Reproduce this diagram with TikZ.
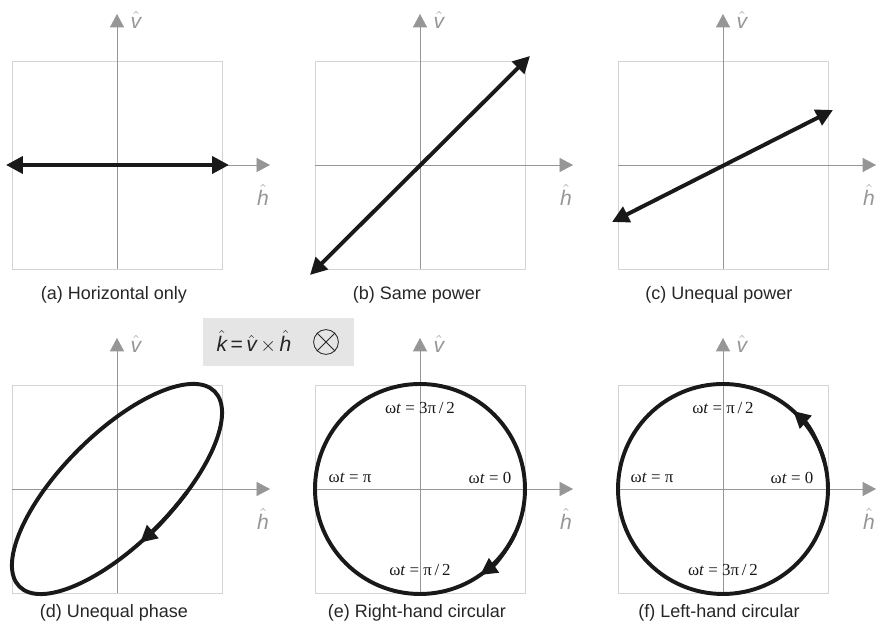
\documentclass[tikz,border=0pt]{standalone}
\usepackage{fontspec}
\setmainfont{Liberation Sans}
\newfontfamily\lblfont{Liberation Serif}
\usetikzlibrary{positioning,arrows.meta}
\definecolor{axisgray}{RGB}{150,150,150}
\definecolor{framegray}{RGB}{212,212,212}
\definecolor{boxgray}{RGB}{229,229,229}
\newcommand{\hatit}[1]{$\hat{\mbox{\itshape #1}}$}

\begin{document}
\begin{tikzpicture}[x=0.025cm, y=0.025cm,
  >={Triangle[length=12pt, width=12pt]},
  panelframe/.style={draw=framegray, line width=0.6pt},
  axisline/.style={draw=axisgray, line width=0.5pt, -{Triangle[length=9.5pt, width=10pt]}},
  axlabel/.style={text=axisgray, font=\fontsize{15}{17}\selectfont, inner sep=0pt},
  pol/.style={draw=black!90, line width=2.8pt},
  subcap/.style={text=black!85, font=\fontsize{12.8}{15}\selectfont},
  wt/.style={text=black!90, font=\lblfont\fontsize{12}{14}\selectfont, inner sep=1pt}]
  \useasboundingbox (0,0) rectangle (876,628);
  \coordinate (oa) at (117,463);
  \coordinate (ob) at (420,463);
  \coordinate (oc) at (723,463);
  \coordinate (od) at (117,139);
  \coordinate (oe) at (420,139);
  \coordinate (of) at (723,139);
  \foreach \p in {a,...,f} {
    \begin{scope}[shift={(o\p)}]
      \draw[panelframe] (-105,-104) rectangle (105,104);
      \draw[axisline] (0,-104) -- (0,151);
      \draw[axisline] (-105,0) -- (153,0);
      \node[axlabel] (v\p) at (19,145) {\hatit{v}};
      \node[axlabel] (h\p) at (146,-30) {\hatit{h}};
    \end{scope}
  }
  \node[subcap] (capa) at (114,333) {(a) Horizontal only};
  \node[subcap] (capb) at (417,333) {(b) Same power};
  \node[subcap] (capc) at (719,333) {(c) Unequal power};
  \node[subcap] (capd) at (114,15) {(d) Unequal phase};
  \node[subcap] (cape) at (417,15) {(e) Right-hand circular};
  \node[subcap] (capf) at (719,15) {(f) Left-hand circular};
  \begin{scope}[shift={(oa)}]
    \draw[pol, <->] (-111,0) -- (112,0);
  \end{scope}
  \begin{scope}[shift={(ob)}]
    \draw[pol, <->] (-110,-110) -- (110,109);
  \end{scope}
  \begin{scope}[shift={(oc)}]
    \draw[pol, <->] (-111,-57) -- (110,55);
  \end{scope}
  \begin{scope}[shift={(od)}, rotate=45]
    \draw[pol] (0,0) ellipse [x radius=138, y radius=55];
    \draw[pol, ->] (-70:138 and 55) arc [start angle=-70, end angle=-99, x radius=138, y radius=55];
  \end{scope}
  \begin{scope}[shift={(oe)}]
    \draw[pol] (0,0) circle [radius=105];
    \draw[pol, ->] (-25:105) arc [start angle=-25, end angle=-55, radius=105];
    \node[wt] (e0) at (70,11) {ω\textit{t} = 0};
    \node[wt] (e1) at (0,-81) {ω\textit{t} = π\,/\,2};
    \node[wt] (e2) at (-70,11) {ω\textit{t} = π};
    \node[wt] (e3) at (0,81) {ω\textit{t} = 3π\,/\,2};
  \end{scope}
  \begin{scope}[shift={(of)}]
    \draw[pol] (0,0) circle [radius=105];
    \draw[pol, ->] (15:105) arc [start angle=15, end angle=48, radius=105];
    \node[wt] (f0) at (69,11) {ω\textit{t} = 0};
    \node[wt] (f1) at (0,81) {ω\textit{t} = π\,/\,2};
    \node[wt] (f2) at (-71,11) {ω\textit{t} = π};
    \node[wt] (f3) at (0,-81) {ω\textit{t} = 3π\,/\,2};
  \end{scope}
  \node[fill=boxgray, minimum width=3.775cm, minimum height=1.2cm] (kbox) at (278.5,286) {};
  \node[text=black!85, font=\fontsize{15}{17}\selectfont] (kdef) at (254,286) {\hatit{k}\,=\,\hatit{v}\,$\times$\,\hatit{h}};
  \node[draw=black!85, line width=0.6pt, circle, minimum size=0.62cm, inner sep=0pt] (kdir) at (326,286) {};
  \draw[black!85, line width=0.6pt] (kdir.45) -- (kdir.225);
  \draw[black!85, line width=0.6pt] (kdir.135) -- (kdir.315);
\end{tikzpicture}
\end{document}
